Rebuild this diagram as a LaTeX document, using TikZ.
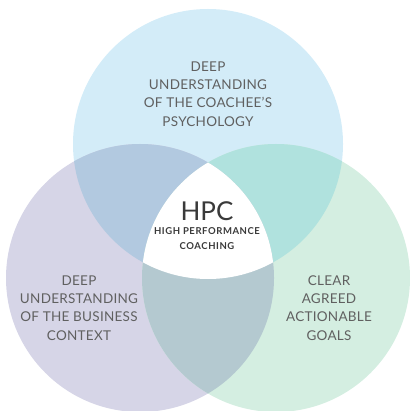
\documentclass[tikz,border=0pt]{standalone}
\usepackage{fontspec}
\usetikzlibrary{positioning}
\setmainfont{Lato}
\definecolor{psyblue}{HTML}{D3ECF8}
\definecolor{busgray}{HTML}{D6D5E7}
\definecolor{goalgreen}{HTML}{D4EEE1}
\definecolor{psybus}{HTML}{B2C9E0}
\definecolor{psygoal}{HTML}{B0E2DE}
\definecolor{busgoal}{HTML}{B4C9D0}
\definecolor{textgray}{HTML}{606060}
\definecolor{hpcgray}{HTML}{3A3A3A}
\begin{document}
\begin{tikzpicture}[x=1pt,y=-1pt,
	area text/.style={text=textgray,align=center,font=\fontsize{13.5}{18.3}\selectfont\addfontfeatures{LetterSpace=2}},
	hpc text/.style={text=hpcgray,align=center}]
	
	\useasboundingbox (0,0) rectangle (409,411);
	
	% The centres
	\coordinate (psy) at (208,144);
	\coordinate (bus) at (140,278);
	\coordinate (goal) at (276,278);
	
	% The circles
	\fill[psyblue] (psy) circle(135pt);
	\fill[busgray] (bus) circle(134pt);
	\fill[goalgreen] (goal) circle(134pt);
	
	% The overlaps
	\begin{scope}
		\clip (psy) circle(135pt);
		\fill[psybus] (bus) circle(134pt);
		\fill[psygoal] (goal) circle(134pt);
	\end{scope}
	\begin{scope}
		\clip (bus) circle(134pt);
		\fill[busgoal] (goal) circle(134pt);
		\clip (goal) circle(134pt);
		\fill[white] (psy) circle(135pt);
	\end{scope}
	
	% The texts
	\node[area text] (psytext) at (208,94) {DEEP\\UNDERSTANDING\\OF THE COACHEE’S\\PSYCHOLOGY};
	\node[area text] (bustext) at (79,308) {DEEP\\UNDERSTANDING\\OF THE BUSINESS\\CONTEXT};
	\node[area text] (goaltext) at (329,308) {CLEAR\\AGREED\\ACTIONABLE\\GOALS};
	\node[hpc text,font=\fontsize{26}{28}\selectfont] (hpc) at (207,211) {HPC};
	\node[hpc text,font=\bfseries\fontsize{9.5}{15}\selectfont\addfontfeatures{LetterSpace=6},below=0pt of hpc.south] (hpcsub) {HIGH PERFORMANCE\\COACHING};
	
\end{tikzpicture}
\end{document}
